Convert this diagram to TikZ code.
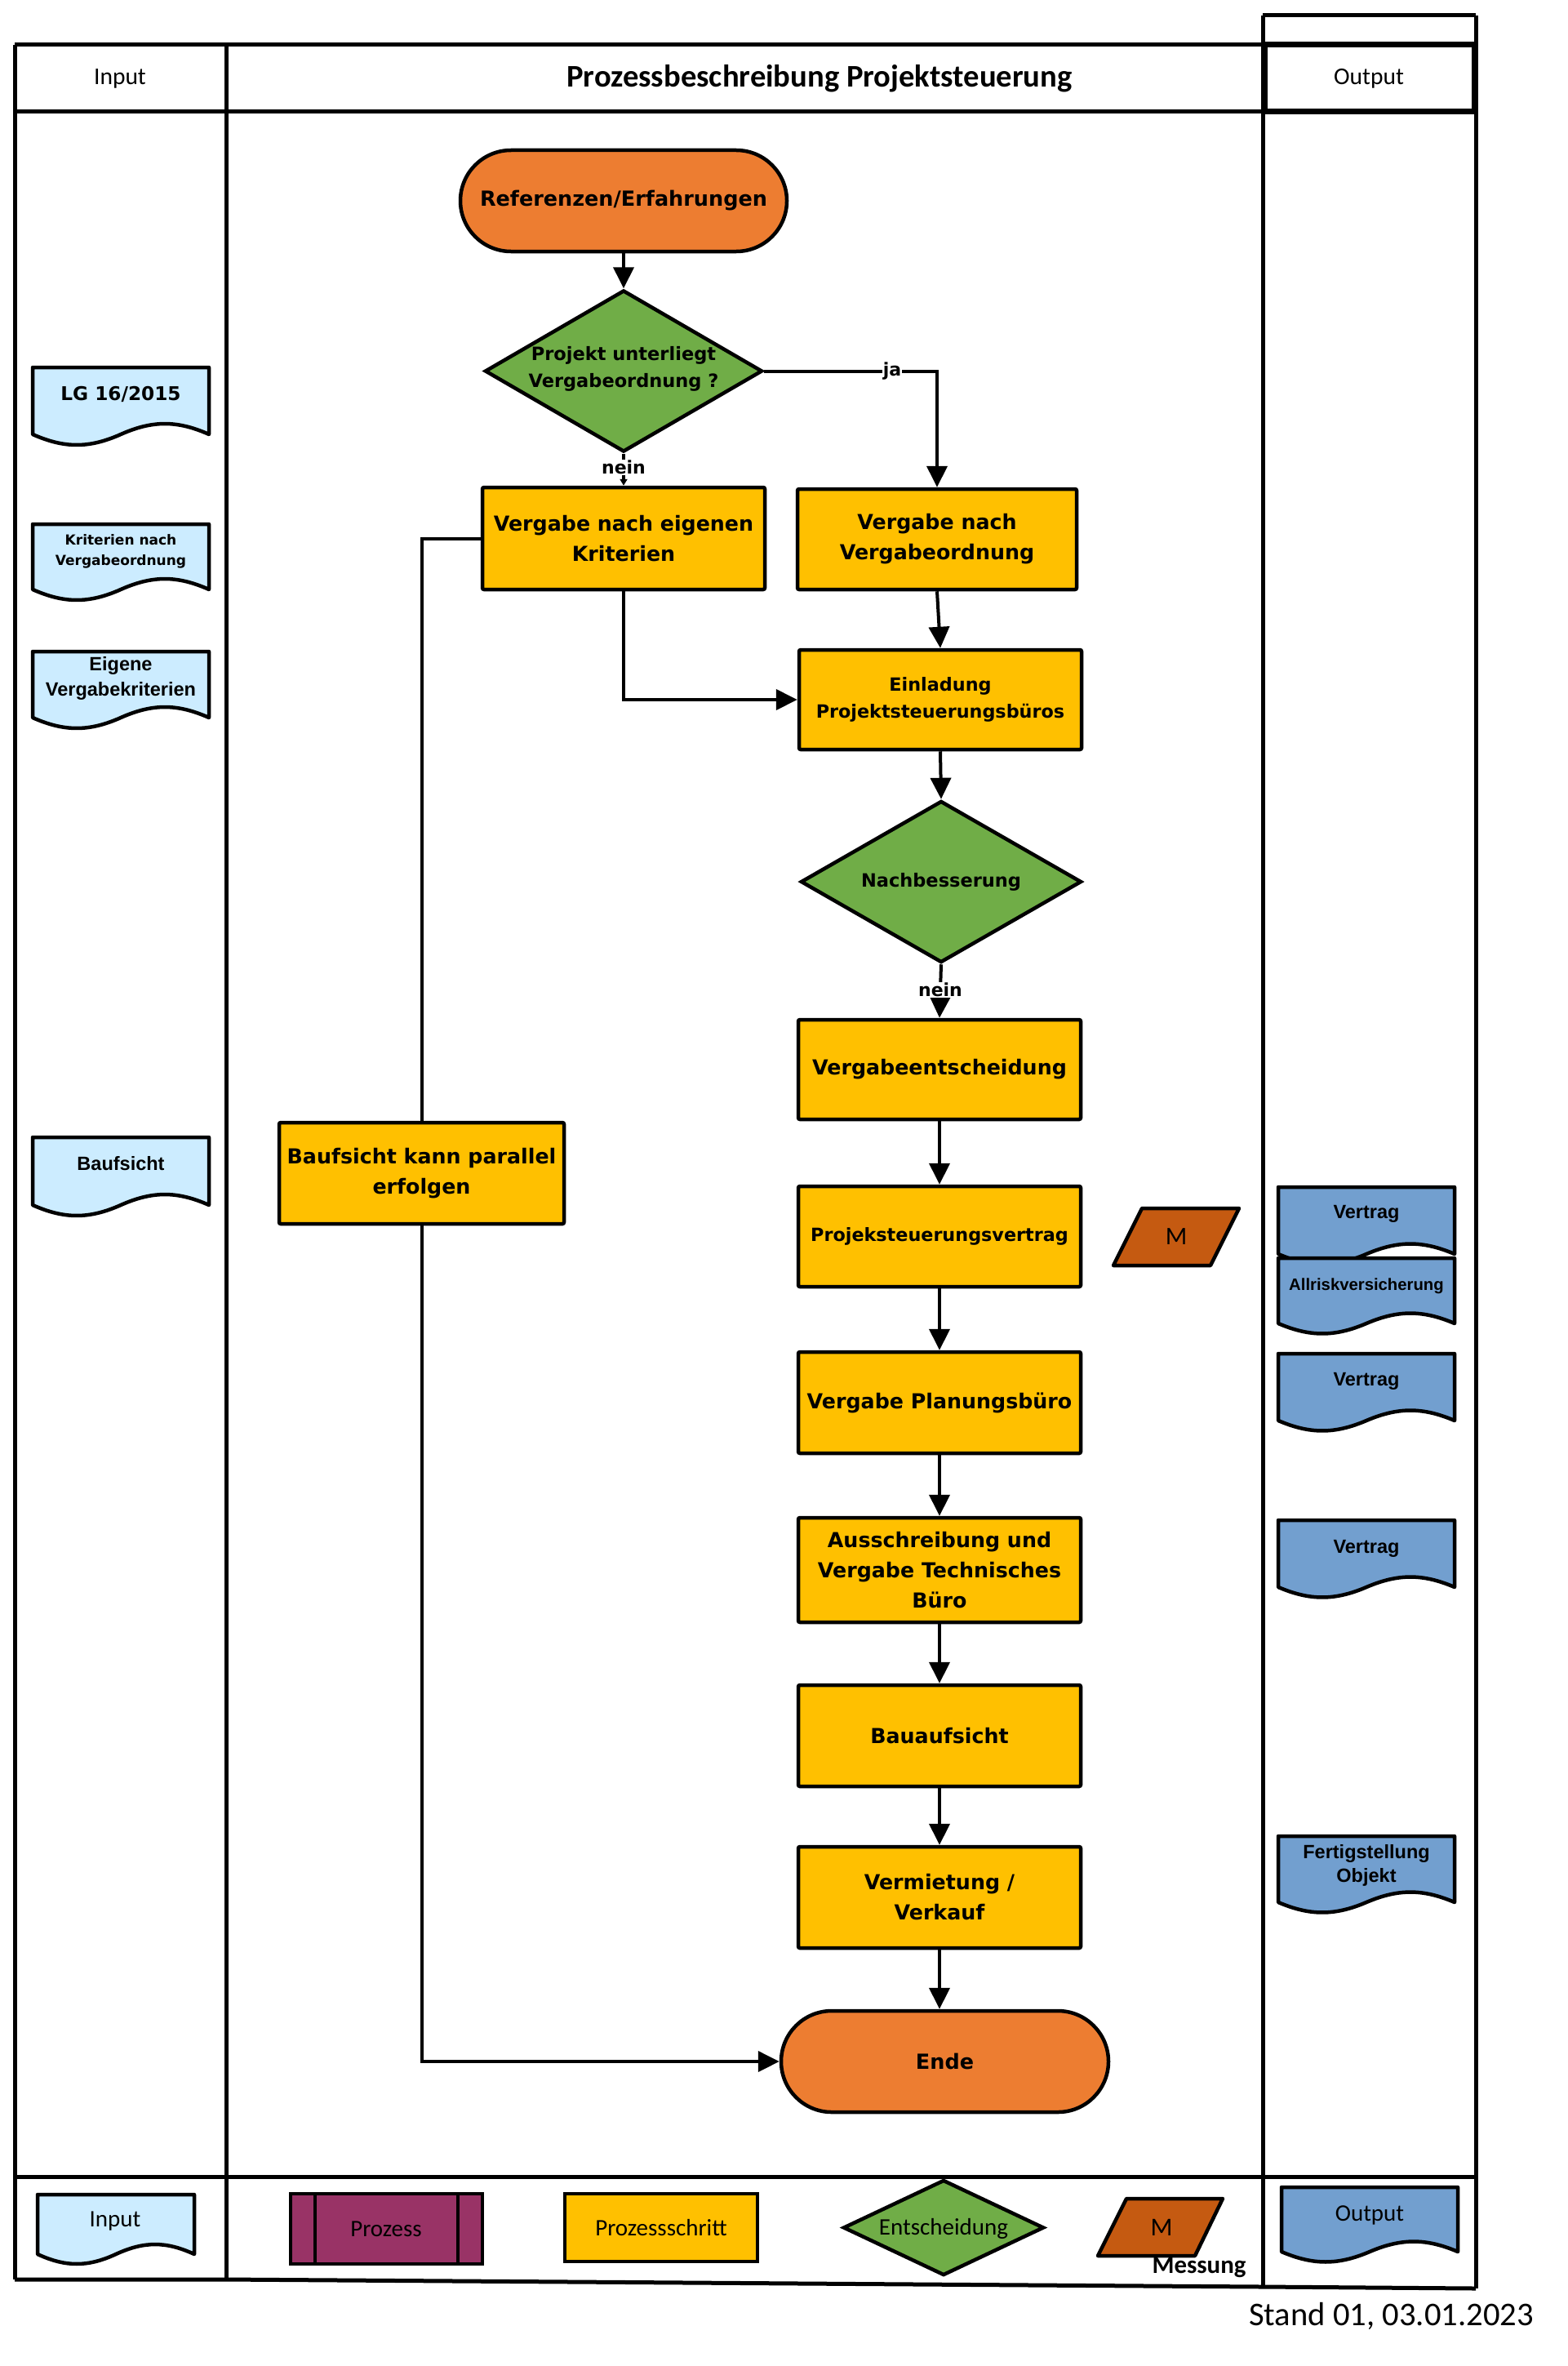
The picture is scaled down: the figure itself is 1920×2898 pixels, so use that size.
\documentclass[tikz,border=0pt]{standalone}
\usepackage{fontspec}
\setmainfont{Carlito}
\newfontfamily\dvs{DejaVu Sans}
\newfontfamily\lib{Liberation Sans}
\usetikzlibrary{arrows.meta,shapes.geometric}
\definecolor{cOrange}{HTML}{ED7D31}
\definecolor{cGreen}{HTML}{70AD47}
\definecolor{cYellow}{HTML}{FFC000}
\definecolor{cIn}{HTML}{CCECFF}
\definecolor{cOut}{HTML}{729FCF}
\definecolor{cM}{HTML}{C55A11}
\definecolor{cProz}{HTML}{993366}
\newcommand{\fs}[2]{\fontsize{#1}{#2}\selectfont}
% document shape: #1 x0, #2 ytop, #3 width, #4 y of bottom corners, #5 wave amplitude, #6 fill
\newcommand{\docshp}[6]{%
  \filldraw[docline, fill=#6] (#1,#4) -- (#1,#2) -- ({#1+#3},#2) -- ({#1+#3},#4)
   .. controls ({#1+0.82*#3},{#4-1.33*#5}) and ({#1+0.68*#3},{#4-1.33*#5}) .. ({#1+0.5*#3},#4)
   .. controls ({#1+0.32*#3},{#4+1.33*#5}) and ({#1+0.18*#3},{#4+1.33*#5}) .. (#1,#4) -- cycle;}
\begin{document}
\begin{tikzpicture}[x=1pt,y=-1pt,
  frame/.style={line width=5pt},
  proc/.style={draw, line width=4.5pt, fill=cYellow, minimum width=346pt, minimum height=123pt,
    inner sep=0pt, align=center, rounded corners=2pt, font=\dvs\bfseries\fs{25.3}{37}},
  procs/.style={proc, font=\dvs\bfseries\fs{22.3}{33}},
  term/.style={draw, line width=4.5pt, fill=cOrange, rounded corners=62pt, minimum width=400pt,
    minimum height=124pt, inner sep=0pt, font=\dvs\bfseries\fs{25.5}{37}},
  deci/.style={draw, line width=4.5pt, fill=cGreen, diamond, inner sep=0pt},
  dtext/.style={align=center, font=\dvs\bfseries\fs{22.5}{33}},
  conn/.style={line width=4pt},
  arr/.style={conn, -{Triangle[width=25pt,length=26pt]}},
  sarr/.style={conn, -{Triangle[width=9pt,length=8pt]}},
  lab/.style={fill=white, inner sep=1pt, font=\dvs\bfseries\fs{22}{26}},
  docline/.style={line width=4.5pt, line join=round},
  intext/.style={align=center, font=\dvs\bfseries\fs{17}{25}},
  inarial/.style={align=center, font=\lib\bfseries\fs{23.5}{31}},
  outtext/.style={align=center, font=\lib\bfseries\fs{23.5}{29}},
  legtext/.style={font=\fs{29}{34}},
  para/.style={line width=4.5pt, line join=round, fill=cM}
]
\useasboundingbox (0,0) rectangle (1920,2898);

% ---------- frame ----------
\draw[frame] (18,55) -- (1808,55);
\draw[frame] (18,137) -- (1808,137);
\draw[frame] (1547,19) -- (1808,19);
\draw[frame] (18,55) -- (18,2792);
\draw[frame] (277,55) -- (277,2792);
\draw[frame] (1547,19) -- (1547,2801);
\draw[frame] (1808,19) -- (1808,2803);
\draw[line width=7pt] (1549,55) rectangle (1806,137);
\draw[frame] (18,2666) -- (1808,2666);
\draw[frame] (18,2792) -- (277,2792) -- (1547,2801) -- (1808,2803);

\node[font=\fs{29.5}{34}] (hin) at (147,96) {Input};
\node[font=\bfseries\fs{38.6}{44}] (htitle) at (1004,96) {Prozessbeschreibung Projektsteuerung};
\node[font=\fs{29.5}{34}] (hout) at (1677,96) {Output};

% ---------- main flow ----------
\node[term] (s1) at (764,246) {Referenzen/Erfahrungen};
\node[deci, minimum width=340pt, minimum height=198pt] (d1) at (764,454.5) {};
\node[dtext] (d1t) at (764,452) {Projekt unterliegt\\Vergabeordnung ?};
\node[proc, minimum width=346pt, minimum height=125pt] (b3) at (764,659.5) {Vergabe nach eigenen\\Kriterien};
\node[proc, minimum width=342pt] (b4) at (1148,660.5) {Vergabe nach\\Vergabeordnung};
\node[procs, minimum height=122pt] (b5) at (1152,857) {Einladung\\Projektsteuerungsbüros};
\node[deci, minimum width=344pt, minimum height=198pt] (d2) at (1153,1080) {};
\node[dtext] (d2t) at (1153,1080) {Nachbesserung};
\node[proc, minimum height=122pt] (b7) at (1151,1310) {Vergabeentscheidung};
\node[procs] (b8) at (1151,1514.5) {Projeksteuerungsvertrag};
\node[proc, minimum height=124pt] (b9) at (1151,1718) {Vergabe Planungsbüro};
\node[proc, minimum height=128pt] (b10) at (1151,1923) {Ausschreibung und\\Vergabe Technisches\\Büro};
\node[proc, minimum height=124pt] (b11) at (1151,2126) {Bauaufsicht};
\node[proc, minimum height=124pt] (b12) at (1151,2324) {Vermietung /\\Verkauf};
\node[term, minimum width=401pt] (ende) at (1157.5,2525) {Ende};
\node[proc, minimum width=349pt, minimum height=124pt] (bp) at (516.5,1437) {Baufsicht kann parallel\\erfolgen};

% M measurement
\filldraw[para] (1399,1480) -- (1518,1480) -- (1483,1550) -- (1364,1550) -- cycle;
\node[font=\fs{31}{34}] (m1) at (1441,1515) {M};

% connectors
\draw[arr] (s1.south) -- (d1.north);
\draw[arr] (d1.east) -| (b4.north) node[lab, pos=0.37] {ja};
\draw[sarr] (d1.south) -- (b3.north) node[lab, midway, yshift=3pt] {nein};
\draw[arr] (b4.south) -- (b5.north);
\draw[arr] (b3.south) |- (b5.west);
\draw[conn] (b3.west) -| (bp.north);
\draw[arr] (bp.south) |- (ende.west);
\draw[arr] (b5.south) -- (d2.north);
\draw[arr] (d2.south) -- (b7.north) node[lab, midway, yshift=2pt] {nein};
\draw[arr] (b7.south) -- (b8.north);
\draw[arr] (b8.south) -- (b9.north);
\draw[arr] (b9.south) -- (b10.north);
\draw[arr] (b10.south) -- (b11.north);
\draw[arr] (b11.south) -- (b12.north);
\draw[arr] (b12.south) -- (b12.south |- ende.north);

% ---------- inputs ----------
\docshp{40}{450}{216}{532}{13}{cIn}
\node[font=\dvs\bfseries\fs{23.2}{28}] (in1) at (148,483) {LG 16/2015};
\docshp{40}{642}{216}{722}{13}{cIn}
\node[intext] (in2) at (148,675.5) {Kriterien nach\\Vergabeordnung};
\docshp{40}{798}{216}{879}{13}{cIn}
\node[inarial] (in3) at (148,830.5) {Eigene\\Vergabekriterien};
\docshp{40}{1393}{216}{1476}{13}{cIn}
\node[inarial] (in4) at (148,1425) {Baufsicht};

% ---------- outputs ----------
\docshp{1566}{1454}{216}{1536}{12.5}{cOut}
\node[outtext] (o1) at (1674,1487) {Vertrag};
\docshp{1566}{1541}{216}{1621}{12.5}{cOut}
\node[outtext, font=\lib\bfseries\fs{20.3}{24}] (o2) at (1674,1575) {Allriskversicherung};
\docshp{1566}{1658}{216}{1740}{12.5}{cOut}
\node[outtext] (o3) at (1674,1692) {Vertrag};
\docshp{1566}{1862}{216}{1944}{12.5}{cOut}
\node[outtext] (o4) at (1674,1897) {Vertrag};
\docshp{1566}{2249}{216}{2330}{12.5}{cOut}
\node[outtext] (o5) at (1674,2284.5) {Fertigstellung\\Objekt};

% ---------- legend ----------
\docshp{46}{2688}{192}{2761}{12}{cIn}
\node[legtext] (lin) at (141,2720) {Input};
\node[draw, line width=4.5pt, fill=cProz, minimum width=235pt, minimum height=86pt, inner sep=0pt] (lproz) at (473.5,2730) {};
\draw[line width=4pt] (386,2687) -- (386,2773) (561,2687) -- (561,2773);
\node[legtext] (lprozt) at (473,2730) {Prozess};
\node[draw, line width=4.5pt, fill=cYellow, minimum width=236pt, minimum height=83pt, inner sep=0pt, legtext] (lschritt) at (810,2728.5) {Prozessschritt};
\node[deci, minimum width=246pt, minimum height=117pt] (lent) at (1156,2728.5) {};
\node[legtext] (lentt) at (1156,2730) {Entscheidung};
\filldraw[para] (1380,2693) -- (1498,2693) -- (1464,2763) -- (1345,2763) -- cycle;
\node[font=\fs{31.5}{34}] (lm) at (1423,2728) {M};
\node[font=\bfseries\fs{30.9}{34}] (lmess) at (1469,2777) {Messung};
\docshp{1570}{2679}{216}{2758}{12.5}{cOut}
\node[legtext] (lout) at (1678,2713) {Output};

\node[font=\fs{40.6}{46}] (stand) at (1704.5,2837) {Stand 01, 03.01.2023};
\end{tikzpicture}
\end{document}
